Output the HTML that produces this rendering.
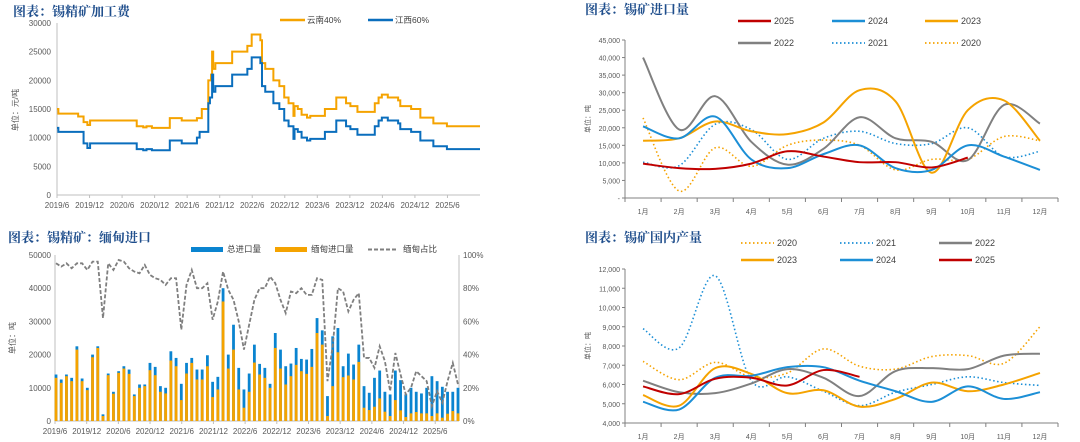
<!DOCTYPE html>
<html><head><meta charset="utf-8">
<style>
html,body{margin:0;padding:0;background:#fff;}
svg{display:block;font-family:"Liberation Sans","Noto Sans CJK SC",sans-serif;}
.t{font-family:"Noto Serif CJK SC","Liberation Serif",serif;font-weight:bold;fill:#1F4E8C;font-size:13px;}
.tk{font-size:8px;fill:#595959;}
.lg{font-size:8.5px;fill:#404040;}
</style></head>
<body>
<svg id="s" width="1080" height="442" xmlns="http://www.w3.org/2000/svg"></svg>
<script>
// ---------- Panel 1 data (step series: [monthIndex from 2019/6, value]) ----------
const p1Ticks = [0,5000,10000,15000,20000,25000,30000];
const p1XLabels = ["2019/6","2019/12","2020/6","2020/12","2021/6","2021/12","2022/6","2022/12","2023/6","2023/12","2024/6","2024/12","2025/6"];
const yunnanSteps = [[0,15000],[0.25,14200],[3.9,13700],[4.9,12700],[5.6,12200],[6.1,13000],[14.7,12000],[15.9,11800],[16.5,12000],[17.5,11700],[20.8,13400],[23,13000],[25.8,13400],[26.7,15000],[27.9,20000],[28.4,21000],[28.6,25000],[28.8,22000],[29.2,23000],[32.3,25000],[35.1,26000],[35.9,28000],[37.5,27000],[37.8,23000],[38.4,22000],[39.9,20000],[41,19000],[41.9,17000],[42.7,16000],[43.6,13800],[43.8,15500],[44.4,15000],[45.1,14000],[46.1,13500],[46.7,13800],[49.4,15000],[51.5,17000],[53.3,16000],[54.1,15500],[55.4,14500],[58.6,16000],[59.3,17000],[59.9,17500],[61,17000],[62.9,16500],[63.3,15500],[65.3,15000],[67,13500],[69.4,12500],[71.9,12000],[78,12000]];
const jiangxiSteps = [[0,11700],[0.25,11000],[3.9,11000],[4.9,9000],[5.6,8200],[6.1,9000],[14.7,8000],[15.9,7800],[16.5,8000],[17.5,7800],[20.8,9500],[23,9000],[25.8,10000],[26.3,11000],[27.9,16000],[28.2,17000],[28.6,21000],[28.8,18000],[29.2,19000],[32.3,21000],[35.1,22000],[35.9,24000],[37.5,23000],[37.8,19000],[38.4,18000],[39.9,16000],[41,15000],[41.9,13000],[42.7,12000],[43.6,9800],[43.8,11500],[44.4,11000],[45.1,10000],[46.1,9500],[46.7,9800],[49.4,11000],[51.5,13000],[53.3,12000],[54.1,11500],[55.4,10500],[58.6,12000],[59.3,13000],[59.9,13500],[61,13000],[62.9,12500],[63.3,11500],[65.3,11000],[67,9500],[69.4,8500],[71.9,8000],[78,8000]];

// ---------- Panel 2 data (imports, thousand t) ----------
const months = ["1月","2月","3月","4月","5月","6月","7月","8月","9月","10月","11月","12月"];
const p2Ticks = [0,5000,10000,15000,20000,25000,30000,35000,40000,45000];
const imp2025 = [9.8,8.5,8.3,9.8,13.3,11.8,10.2,10.2,8.7,11.5];
const imp2024 = [20.4,17,23.2,11,8.5,12.5,15,8.5,8,15,11.8,8];
const imp2023 = [16.3,17,21.8,19,18.2,21.5,30.7,27.5,7.2,25,27.8,16.3];
const imp2022 = [40,19.5,29,16,9.5,14,23,17,16,10.8,26.5,21.2];
const imp2021 = [10.2,9.2,21,19.5,11,17,19,15.5,15.5,20,11.8,13.3];
const imp2020 = [22.8,2,14.3,9,15,16.5,15,8,11,11,17.5,16.3];

// ---------- Panel 3 data ----------
const p3Ticks = [0,10000,20000,30000,40000,50000];
const p3RTicks = [0,20,40,60,80,100];
const p3XLabels = p1XLabels;
const totalImp = [14000,12500,14000,13000,22500,12800,10000,20000,22500,2000,14300,8800,15000,16500,15500,8000,11000,11000,17500,16300,10500,10000,21000,19000,11200,17500,19000,15500,15500,19800,11800,13300,40000,20000,29000,16000,9500,14300,23000,17200,16000,11200,26500,21500,16500,17300,22000,18700,18500,21700,31000,27300,7500,25500,28000,16500,20300,17000,23000,10500,8500,13000,15200,8800,8000,15200,12300,8000,10000,8800,8300,10000,13500,12000,10300,8800,8800,10000];
const myanmarImp = [13000,11500,13500,12000,21500,12000,9300,19200,22000,1500,13800,8200,14500,15800,14200,7500,10000,10500,15300,13800,8800,8300,18200,16500,6300,14300,17500,12500,12500,16500,7200,9500,36000,15800,21500,9500,4000,8800,17600,14000,13000,10000,22000,15800,11000,13500,16900,15000,14200,16300,26500,23000,1500,10500,20700,13200,13700,12500,17800,4000,3300,4300,6800,2800,1500,6300,3200,1200,2300,2700,2300,2300,1500,2300,1000,2200,3000,2300];
const myanmarShare = [95,93,95,92,95,95,91,96,96,62,95,91,97,96,92,90,89,94,88,86,85,82,86,86,55,82,91,80,80,83,61,72,90,79,73,60,43,58,73,80,80,87,83,73,65,78,77,80,76,76,86,85,24,45,80,78,66,73,77,38,38,32,45,36,18,41,28,16,20,30,27,24,9,18,11,24,35,22];

// ---------- Panel 4 data (domestic output, thousand t) ----------
const p4Ticks = [4000,5000,6000,7000,8000,9000,10000,11000,12000];
const out2020 = [7.2,6.25,7.15,6.4,6.6,7.85,6.95,6.8,7.45,7.5,7.1,9.0];
const out2021 = [8.9,7.9,11.65,6.2,6.4,5.65,4.9,5.6,6.0,6.4,6.1,5.95];
const out2022 = [6.2,5.6,5.55,6.05,6.8,6.35,5.4,6.7,6.85,6.8,7.5,7.6];
const out2023 = [5.45,4.9,6.85,6.55,5.55,5.7,4.85,5.25,6.1,5.65,6.0,6.6];
const out2024 = [5.1,4.7,6.35,6.45,6.9,6.9,6.2,5.65,5.1,5.9,5.25,5.6];
const out2025 = [5.9,5.5,6.3,6.35,5.95,6.75,6.4];

const S = document.getElementById('s');
const NS = "http://www.w3.org/2000/svg";
function mk(tag, attrs, parent, text){
  const e = document.createElementNS(NS, tag);
  for (const k in attrs) e.setAttribute(k, attrs[k]);
  if (text !== undefined) e.textContent = text;
  (parent||S).appendChild(e);
  return e;
}
function grp(name){
  const g = mk('g', {});
  
  
  return g;
}
function fmt(v){ return v===0 ? '-' : v.toLocaleString('en-US'); }
function smooth(pts){
  let d = 'M'+pts[0][0]+','+pts[0][1];
  for (let i=0;i<pts.length-1;i++){
    const p0=pts[i-1]||pts[i], p1=pts[i], p2=pts[i+1], p3=pts[i+2]||p2;
    const c1=[p1[0]+(p2[0]-p0[0])/6, p1[1]+(p2[1]-p0[1])/6];
    const c2=[p2[0]-(p3[0]-p1[0])/6, p2[1]-(p3[1]-p1[1])/6];
    d += ' C'+c1[0]+','+c1[1]+' '+c2[0]+','+c2[1]+' '+p2[0]+','+p2[1];
  }
  return d;
}

// ================= Panel 1 =================
(function(){
  const g = grp('panel-processing-fee');
  const x0=57,x1=480,y0=195,y1=23;
  const X = m => x0 + m*(x1-x0)/78;
  const Y = v => y0 - v*(y0-y1)/30000;
  let t = mk('text',{x:13,y:16,class:'t'},g,'图表：锡精矿加工费');
   
  p1Ticks.forEach(v=>{
    const e = mk('text',{x:51,y:Y(v)+3,class:'tk','text-anchor':'end'},g,String(v));
     
  });
  const yt = mk('text',{x:18,y:110,class:'tk',transform:'rotate(-90 18 110)','text-anchor':'middle'},g,'单位：元/吨');
   
  mk('line',{x1:x0,y1:y1,x2:x0,y2:y0,stroke:'#bfbfbf'},g);
  mk('line',{x1:x0,y1:y0,x2:x1,y2:y0,stroke:'#bfbfbf'},g);
  p1XLabels.forEach((l,i)=>{
    const x = X(i*6);
    mk('line',{x1:x,y1:y0,x2:x,y2:y0+3,stroke:'#bfbfbf'},g);
    const e = mk('text',{x:x,y:208,class:'tk','text-anchor':'middle'},g,l);
     
  });
  function step(arr,color,name){
    let d='';
    arr.forEach((p,i)=>{
      if(i===0) d='M'+X(p[0])+','+Y(p[1]);
      else { d+=' L'+X(p[0])+','+Y(arr[i-1][1])+' L'+X(p[0])+','+Y(p[1]); }
    });
    const e = mk('path',{d:d,fill:'none',stroke:color,'stroke-width':2},g);
     
  }
  step(yunnanSteps,'#F5A300','line-yunnan-40');
  step(jiangxiSteps,'#0A6EBD','line-jiangxi-60');
  mk('line',{x1:280,y1:20,x2:305,y2:20,stroke:'#F5A300','stroke-width':2.5},g);
  let l1 = mk('text',{x:307,y:23,class:'lg'},g,'云南40%');
   
  mk('line',{x1:368,y1:20,x2:393,y2:20,stroke:'#0A6EBD','stroke-width':2.5},g);
  let l2 = mk('text',{x:395,y:23,class:'lg'},g,'江西60%');
   
})();

// ================= Month-line panels =================
function monthPanel(cfg){
  const g = grp(cfg.name);
  const x0=625,x1=1058,y0=cfg.y0,y1=cfg.y1;
  const cw=(x1-x0)/12;
  const X = i => x0 + (i+0.5)*cw;
  const Y = v => y0 - (v-cfg.min)*(y0-y1)/(cfg.max-cfg.min);
  let t = mk('text',{x:585,y:cfg.ty,class:'t'},g,cfg.title);
   
  mk('line',{x1:x0,y1:y1,x2:x0,y2:y0,stroke:'#808080'},g);
  mk('line',{x1:x0,y1:y0,x2:x1,y2:y0,stroke:'#808080'},g);
  cfg.ticks.forEach(v=>{
    mk('line',{x1:x0-3,y1:Y(v),x2:x0,y2:Y(v),stroke:'#808080'},g);
    const e = mk('text',{x:x0-5,y:Y(v)+3,class:'tk','text-anchor':'end',style:'font-size:7px'},g,fmt(v));
     
  });
  for(let i=0;i<=12;i++) mk('line',{x1:x0+i*cw,y1:y0,x2:x0+i*cw,y2:y0+4,stroke:'#808080'},g);
  months.forEach((m,i)=>{
    const e = mk('text',{x:X(i),y:y0+16,class:'tk','text-anchor':'middle',style:'font-size:7px'},g,m);
     
  });
  const yc=(y0+y1)/2;
  const yt = mk('text',{x:590,y:yc,class:'tk',style:'font-size:7px',transform:'rotate(-90 590 '+yc+')','text-anchor':'middle'},g,'单位：吨');
   
  cfg.series.forEach(s=>{
    const pts = s.data.map((v,i)=>[X(i),Y(v*1000)]);
    const a = {d:smooth(pts),fill:'none',stroke:s.color,'stroke-width':2};
    if(s.dot){a['stroke-dasharray']='1.5 2.5';a['stroke-width']=1.6;}
    const e = mk('path',a,g);
     
    const lx=s.lx, ly=s.ly;
    const la={x1:lx,y1:ly,x2:lx+33,y2:ly,stroke:s.color,'stroke-width':2.5};
    if(s.dot){la['stroke-dasharray']='1.5 2.5';la['stroke-width']=1.8;}
    mk('line',la,g);
    const lt = mk('text',{x:lx+36,y:ly+3,class:'lg',style:'font-size:9px'},g,s.label);
     
  });
}
monthPanel({name:'panel-ore-imports',title:'图表：锡矿进口量',ty:14,y0:198,y1:40,min:0,max:45000,ticks:p2Ticks,
  series:[
    {label:'2020',data:imp2020,color:'#F5A300',dot:true,lx:925,ly:43},
    {label:'2021',data:imp2021,color:'#1C8FD6',dot:true,lx:832,ly:43},
    {label:'2022',data:imp2022,color:'#808080',lx:738,ly:43},
    {label:'2023',data:imp2023,color:'#F5A300',lx:925,ly:21},
    {label:'2024',data:imp2024,color:'#1C8FD6',lx:832,ly:21},
    {label:'2025',data:imp2025,color:'#C00000',lx:738,ly:21}
  ]});
monthPanel({name:'panel-domestic-output',title:'图表：锡矿国内产量',ty:242,y0:423,y1:269,min:4000,max:12000,ticks:p4Ticks,
  series:[
    {label:'2020',data:out2020,color:'#F5A300',dot:true,lx:741,ly:243},
    {label:'2021',data:out2021,color:'#1C8FD6',dot:true,lx:840,ly:243},
    {label:'2022',data:out2022,color:'#808080',lx:939,ly:243},
    {label:'2023',data:out2023,color:'#F5A300',lx:741,ly:260},
    {label:'2024',data:out2024,color:'#1C8FD6',lx:840,ly:260},
    {label:'2025',data:out2025,color:'#C00000',lx:939,ly:260}
  ]});

// ================= Panel 3 =================
(function(){
  const g = grp('panel-myanmar-imports');
  const x0=55,x1=459,y0=421,y1=255;
  const n = totalImp.length;
  const bx = i => x0 + 1 + i*(x1-x0-2)/(n-1);
  const Y = v => y0 - v*(y0-y1)/50000;
  const YR = p => y0 - p*(y0-y1)/100;
  let t = mk('text',{x:8,y:242,class:'t'},g,'图表：锡精矿：缅甸进口');
   
  mk('line',{x1:x0,y1:y1,x2:x0,y2:y0,stroke:'#bfbfbf'},g);
  mk('line',{x1:x1,y1:y1,x2:x1,y2:y0,stroke:'#bfbfbf'},g);
  mk('line',{x1:x0,y1:y0,x2:x1,y2:y0,stroke:'#bfbfbf'},g);
  p3Ticks.forEach(v=>{
    const e = mk('text',{x:x0-4,y:Y(v)+3,class:'tk','text-anchor':'end'},g,String(v));
     
  });
  p3RTicks.forEach(v=>{
    const e = mk('text',{x:x1+4,y:YR(v)+3,class:'tk'},g,v+'%');
     
  });
  p3XLabels.forEach((l,i)=>{
    const x = x0 + i*6*(x1-x0)/76.5;
    mk('line',{x1:x,y1:y0,x2:x,y2:y0+3,stroke:'#bfbfbf'},g);
    const e = mk('text',{x:x,y:434,class:'tk','text-anchor':'middle'},g,l);
     
  });
  const yt = mk('text',{x:15,y:338,class:'tk',transform:'rotate(-90 15 338)','text-anchor':'middle'},g,'单位：吨');
   
  totalImp.forEach((v,i)=>{
    const x = bx(i)-1.4;
    const b = mk('rect',{x:x,y:Y(v),width:2.8,height:y0-Y(v),fill:'#0A84D0'},g);
     
    const m = myanmarImp[i];
    const o = mk('rect',{x:x,y:Y(m),width:2.8,height:y0-Y(m),fill:'#F5A300'},g);
     
  });
  const d = myanmarShare.map((p,i)=>(i?'L':'M')+bx(i)+','+YR(p)).join(' ');
  const ln = mk('path',{d:d,fill:'none',stroke:'#7F7F7F','stroke-width':1.8,'stroke-dasharray':'4 2'},g);
   
  mk('rect',{x:191,y:247,width:32,height:5,fill:'#0A84D0'},g);
  let a = mk('text',{x:227,y:252,class:'lg'},g,'总进口量');
   
  mk('rect',{x:275,y:247,width:32,height:5,fill:'#F5A300'},g);
  let b = mk('text',{x:311,y:252,class:'lg'},g,'缅甸进口量');
   
  mk('line',{x1:368,y1:249.5,x2:398,y2:249.5,stroke:'#7F7F7F','stroke-width':2,'stroke-dasharray':'4 2'},g);
  let c = mk('text',{x:403,y:252,class:'lg'},g,'缅甸占比');
   
})();
</script>
</body></html>
